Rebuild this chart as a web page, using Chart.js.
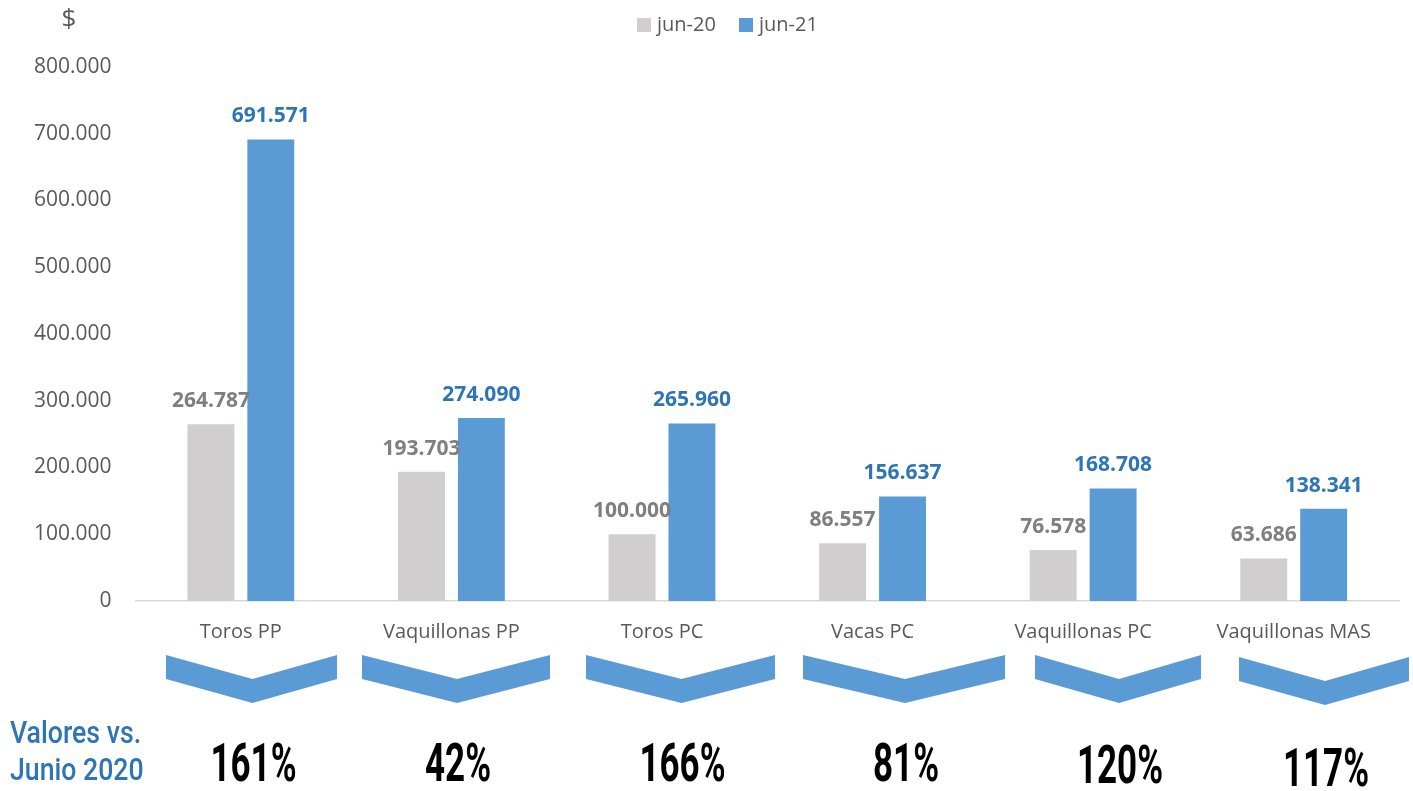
<!DOCTYPE html>
<html>
<head>
<meta charset="utf-8">
<script src="https://cdn.jsdelivr.net/npm/chart.js@4.4.1/dist/chart.umd.min.js"></script>
<style>
  html, body { margin: 0; padding: 0; background: #fff; }
  #wrap { width: 1413px; height: 791px; }
</style>
</head>
<body>
<div id="wrap"><canvas id="chart" width="1413" height="791"></canvas></div>
<script>
/* -------------------------------------------------- */
/* Data */
/* -------------------------------------------------- */

const CATEGORIES = ['Toros PP', 'Vaquillonas PP', 'Toros PC', 'Vacas PC', 'Vaquillonas PC', 'Vaquillonas MAS'];
const SERIES_NAMES = ['jun-20', 'jun-21'];
const JUN_20 = [264787, 193703, 100000, 86557, 76578, 63686];
const JUN_21 = [691571, 274090, 265960, 156637, 168708, 138341];
const CHANGE_LABELS = ['161%', '42%', '166%', '81%', '120%', '117%'];
const Y_MAX  = 800000;
const Y_STEP = 100000;

const GRAY      = '#d0cece';
const BLUE      = '#5b9bd5';
const GRAY_TEXT = '#7f7f7f';
const BLUE_TEXT = '#2e75b6';
const AXIS_TEXT = '#595959';

// chevron decorations under each category (left, right, top)
const CHEVRONS = [
  { l: 166,  r: 337,  t: 655 },
  { l: 362,  r: 550,  t: 655 },
  { l: 586,  r: 775,  t: 655 },
  { l: 803,  r: 1005, t: 655 },
  { l: 1035, r: 1201, t: 655 },
  { l: 1239, r: 1409, t: 657 },
];
const PCT_BASELINE = [781, 781, 781, 781, 783, 786];

Chart.defaults.font.family = "'Open Sans', 'Noto Sans', sans-serif";
Chart.defaults.color = AXIS_TEXT;

/* -------------------------------------------------- */
/* Helpers */
/* -------------------------------------------------- */

function fmt(v) {
  return String(Math.round(v)).replace(/\B(?=(\d{3})+(?!\d))/g, '.');
}

const barLabels = {
  id: 'barLabels',
  afterDatasetsDraw(chart) {
    const ctx = chart.ctx;
    ctx.save();
    ctx.font = "bold 21px 'Open Sans', sans-serif";
    ctx.textAlign = 'center';
    ctx.textBaseline = 'alphabetic';
    chart.data.datasets.forEach((ds, di) => {
      const meta = chart.getDatasetMeta(di);
      ctx.fillStyle = di === 0 ? GRAY_TEXT : BLUE_TEXT;
      meta.data.forEach((bar, i) => {
        ctx.fillText(fmt(ds.data[i]), bar.x, bar.y - 17);
      });
    });
    ctx.restore();
  },
};

const decorations = {
  id: 'decorations',
  afterDraw(chart) {
    const ctx = chart.ctx;
    ctx.save();

    // "$" unit
    ctx.fillStyle = AXIS_TEXT;
    ctx.font = "26px 'Open Sans', sans-serif";
    ctx.textAlign = 'center';
    ctx.textBaseline = 'alphabetic';
    ctx.fillText('$', 69, 27);

    // legend
    const legendItems = [
      { x: 637, color: GRAY, text: SERIES_NAMES[0] },
      { x: 739, color: BLUE, text: SERIES_NAMES[1] },
    ];
    ctx.font = "20px 'Open Sans', sans-serif";
    ctx.textAlign = 'left';
    ctx.textBaseline = 'middle';
    legendItems.forEach(it => {
      ctx.fillStyle = it.color;
      ctx.fillRect(it.x, 18, 14, 14);
      ctx.fillStyle = AXIS_TEXT;
      ctx.fillText(it.text, it.x + 20, 25);
    });

    // chevrons
    ctx.fillStyle = BLUE;
    CHEVRONS.forEach(c => {
      const m = (c.l + c.r) / 2 + 1;
      ctx.beginPath();
      ctx.moveTo(c.l, c.t);
      ctx.lineTo(m, c.t + 24);
      ctx.lineTo(c.r, c.t);
      ctx.lineTo(c.r, c.t + 24);
      ctx.lineTo(m, c.t + 48);
      ctx.lineTo(c.l, c.t + 24);
      ctx.closePath();
      ctx.fill();
    });

    // percentages
    ctx.fillStyle = '#000';
    ctx.font = "bold 53px Roboto, sans-serif";
    ctx.textAlign = 'center';
    ctx.textBaseline = 'alphabetic';
    CHANGE_LABELS.forEach((t, i) => {
      const c = CHEVRONS[i];
      ctx.save();
      ctx.translate((c.l + c.r) / 2 + 2, PCT_BASELINE[i]);
      ctx.scale(0.66, 1);
      ctx.fillText(t, 0, 0);
      ctx.restore();
    });

    // caption
    ctx.fillStyle = BLUE_TEXT;
    ctx.font = "500 31px Roboto, sans-serif";
    ctx.textAlign = 'left';
    [['Valores vs.', 743], ['Junio 2020', 780]].forEach(([t, y]) => {
      ctx.save();
      ctx.translate(10, y);
      ctx.scale(0.86, 1);
      ctx.fillText(t, 0, 0);
      ctx.restore();
    });

    ctx.restore();
  },
};

/* -------------------------------------------------- */
/* Chart */
/* -------------------------------------------------- */

const ctx = document.getElementById('chart').getContext('2d');
new Chart(ctx, {
  type: 'bar',
  data: {
    labels: CATEGORIES,
    datasets: [
      { label: SERIES_NAMES[0], data: JUN_20, backgroundColor: GRAY },
      { label: SERIES_NAMES[1], data: JUN_21, backgroundColor: BLUE },
    ],
  },
  options: {
    responsive: false,
    animation: false,
    categoryPercentage: 0.569,
    barPercentage: 0.783,
    layout: { padding: { top: 67, left: 10, right: 14, bottom: 128 } },
    plugins: {
      legend: { display: false },
      tooltip: { enabled: false },
    },
    scales: {
      x: {
        grid: { display: false, drawTicks: false },
        border: { display: true, color: '#d9d9d9', width: 1.5 },
        ticks: { padding: 19, color: AXIS_TEXT, font: { size: 20 } },
      },
      y: {
        min: 0,
        max: Y_MAX,
        grid: { display: false, drawTicks: false },
        border: { display: false },
        ticks: {
          stepSize: Y_STEP,
          padding: 24,
          color: AXIS_TEXT,
          font: { size: 21 },
          callback: v => fmt(v),
        },
      },
    },
  },
  plugins: [barLabels, decorations],
});
</script>
</body>
</html>
